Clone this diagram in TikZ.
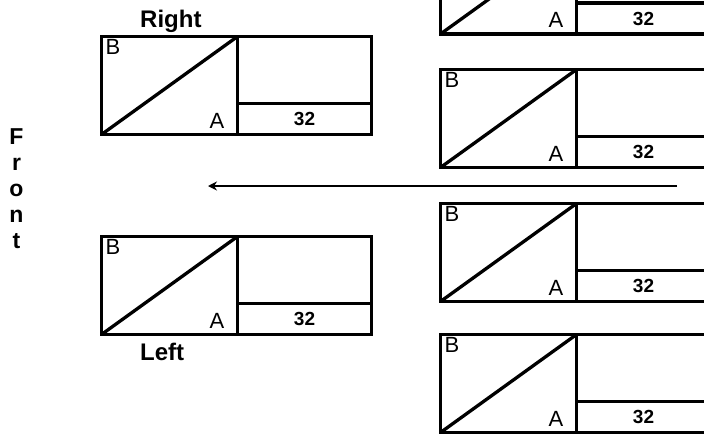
\documentclass[tikz,border=0pt]{standalone}
\usepackage{fontspec}
\setmainfont{Liberation Sans}
\usetikzlibrary{arrows.meta}
\newcommand\parkslot[4][B]{%
  \begin{scope}[shift={(#3,#4)}]
    \draw[frame] (0,0) rectangle (270,98);
    \draw[frame] (136,0) -- (136,98);
    \draw[frame] (136,67) -- (270,67);
    \draw[frame] (0,98) -- (136,0);
    \node[lbl, anchor=north west] (#2B) at (4,3) {#1};
    \node[lbl, anchor=base east] (#2A) at (123,91.5) {A};
    \node[num, anchor=base] (#2N) at (203,89) {32};
  \end{scope}}
\begin{document}
\begin{tikzpicture}[x=1pt,y=-1pt,
  frame/.style={line width=3.3pt},
  lbl/.style={font=\fontsize{22}{22}\selectfont, inner sep=0pt},
  num/.style={font=\bfseries\fontsize{19}{19}\selectfont, inner sep=0pt},
  side/.style={font=\bfseries\fontsize{24}{24}\selectfont, inner sep=0pt},
  flow/.style={line width=1.5pt, -{Stealth[length=9pt,width=9pt]}}]
\useasboundingbox (0,0) rectangle (704,434);
\clip (0,0) rectangle (704,434);
\parkslot{R}{101.5}{36.5}
\parkslot{L}{101.5}{236.5}
\parkslot[]{Q1}{440.5}{-64}
\parkslot{Q2}{440.5}{69.5}
\parkslot{Q3}{440.5}{203.5}
\parkslot{Q4}{440.5}{334.5}
\node[side, anchor=base west] (right) at (140,27) {Right};
\node[side, anchor=base west] (left) at (140,360) {Left};
\node[inner sep=0pt, anchor=north, align=center, font=\bfseries\fontsize{23}{26}\selectfont] (front) at (16.5,128) {F\\r\\o\\n\\t};
\coordinate (tail) at (677,186);
\coordinate (head) at (208,186);
\draw[flow] (tail) -- (head);
\end{tikzpicture}
\end{document}
